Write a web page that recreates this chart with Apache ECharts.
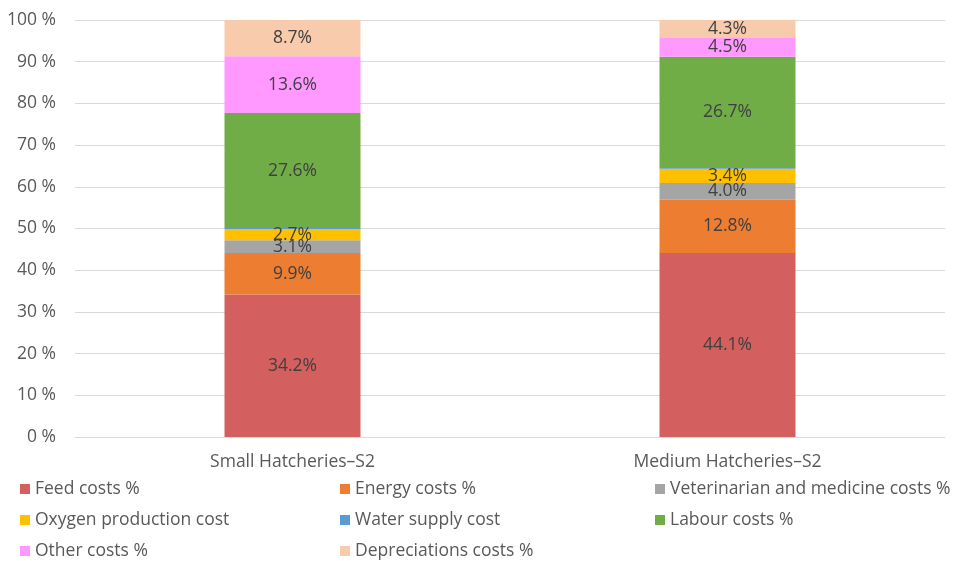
<!DOCTYPE html>
<html>
<head>
<meta charset="utf-8">
<script src="https://cdn.jsdelivr.net/npm/echarts@6/dist/echarts.min.js"></script>
<style>
  html, body { margin: 0; padding: 0; background: #fff; }
  #chart { width: 958px; height: 561px; }
</style>
</head>
<body>
<div id="chart"></div>
<script>
// categories and series values (percent of total cost)
const categories = ['Small Hatcheries\u2013S2', 'Medium Hatcheries\u2013S2'];
const feedCosts = [34.2, 44.1];
const energyCosts = [9.9, 12.8];
const vetCosts = [3.1, 4.0];
const oxygenCosts = [2.7, 3.4];
const waterCosts = [0.2, 0.2];
const labourCosts = [27.6, 26.7];
const otherCosts = [13.6, 4.5];
const deprCosts = [8.7, 4.3];

const seriesDefs = [
  { name: 'Feed costs %', data: feedCosts, color: '#D35F5F' },
  { name: 'Energy costs %', data: energyCosts, color: '#ED7D31' },
  { name: 'Veterinarian and medicine costs %', data: vetCosts, color: '#A5A5A5' },
  { name: 'Oxygen production cost', data: oxygenCosts, color: '#FFC000' },
  { name: 'Water supply cost', data: waterCosts, color: '#5B9BD5', noLabel: true },
  { name: 'Labour costs %', data: labourCosts, color: '#70AD47' },
  { name: 'Other costs %', data: otherCosts, color: '#FF99FF' },
  { name: 'Depreciations costs %', data: deprCosts, color: '#F8CBAD' }
];

const font = 'Open Sans, Noto Sans, sans-serif';
const fs = 17.5;

const legendBase = {
  orient: 'vertical',
  top: 479,
  height: 90,
  itemWidth: 10,
  itemHeight: 10,
  itemGap: 11,
  icon: 'rect',
  padding: 0,
  textStyle: { color: '#595959', fontSize: fs, lineHeight: 20, fontFamily: font }
};

const chart = echarts.init(document.getElementById('chart'));
chart.setOption({
  animation: false,
  grid: { left: 75, right: 13, top: 20, bottom: 124, containLabel: false },
  legend: [
    Object.assign({ left: 20, data: ['Feed costs %', 'Oxygen production cost', 'Other costs %'] }, legendBase),
    Object.assign({ left: 340, data: ['Energy costs %', 'Water supply cost', 'Depreciations costs %'] }, legendBase),
    Object.assign({ left: 655, data: ['Veterinarian and medicine costs %', 'Labour costs %'] }, legendBase)
  ],
  xAxis: {
    type: 'category',
    data: categories,
    axisLine: { lineStyle: { color: '#d9d9d9' } },
    axisTick: { show: false },
    axisLabel: { color: '#595959', fontSize: fs, fontFamily: font, margin: 16 }
  },
  yAxis: {
    type: 'value',
    min: 0,
    max: 100,
    interval: 10,
    axisLine: { show: false },
    axisTick: { show: false },
    axisLabel: { formatter: '{value} %', color: '#595959', fontSize: fs, fontFamily: font, margin: 19 },
    splitLine: { lineStyle: { color: '#d9d9d9' } }
  },
  series: seriesDefs.map(s => ({
    name: s.name,
    type: 'bar',
    stack: 'total',
    barWidth: 136,
    data: s.data,
    itemStyle: { color: s.color },
    label: {
      show: !s.noLabel,
      position: 'inside',
      color: '#404040',
      fontSize: fs,
      fontFamily: font,
      formatter: p => p.value.toFixed(1) + '%'
    }
  }))
});
</script>
</body>
</html>
